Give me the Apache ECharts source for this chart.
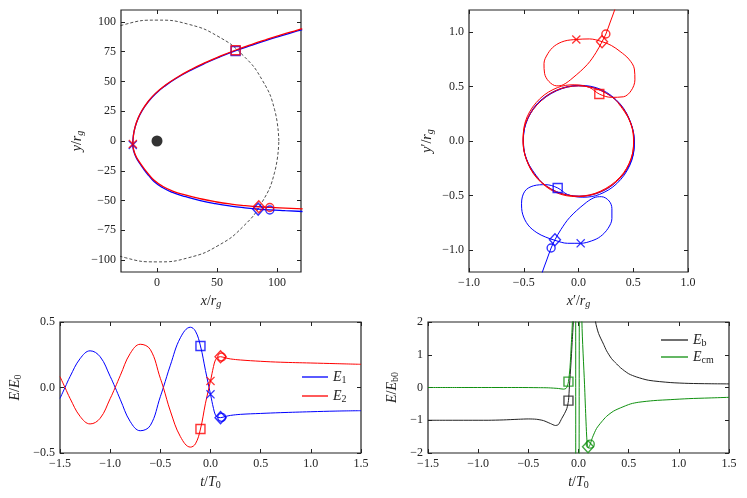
<!DOCTYPE html>
<html>
<head>
<meta charset="utf-8">
<script src="https://cdn.jsdelivr.net/npm/echarts@6/dist/echarts.min.js"></script>
<style>
html, body { margin: 0; padding: 0; background: #fff; }
#main { width: 747px; height: 498px; }
</style>
</head>
<body>
<div id="main"></div>
<script>
// ---- data ----
// top-left: orbits in the x/y plane (units of r_g), from the upper right round the pericentre
const orbitRed = [[121,94.4],[117,93.2],[104.1,89.3],[91.2,85.2],[78.6,81],[65.2,76.2],[52.2,71],[40.7,66],[28.4,60],[17.6,54],[7.1,47],[-1.3,40],[-7.5,33],[-12.3,26],[-15.8,19],[-18.2,12],[-19.6,5],[-20.1,-2.5],[-19.3,-8],[-17.4,-13],[-14.4,-18],[-10.9,-23],[-6.9,-28],[-2.4,-33],[4.6,-38],[13,-42],[24.2,-45.5],[36.2,-48.5],[48.7,-51],[61.7,-53],[73.4,-54.3],[84.2,-55.2],[93.8,-55.8],[107,-56.4],[121.4,-57]];
const orbitBlue = [[121,93.6],[116.9,92.4],[104,88.5],[91.1,84.5],[78.5,80.3],[65.1,75.6],[52.1,70.5],[40.6,65.5],[28.3,59.5],[17.5,53.5],[7,46.5],[-1.4,39.5],[-7.6,32.5],[-12.4,25.5],[-15.9,18.5],[-18.3,11.5],[-19.7,4.5],[-20.2,-3.2],[-19.4,-8.5],[-17.5,-13.6],[-14.5,-18.7],[-11,-23.8],[-7,-28.9],[-2.5,-34],[4.5,-39.1],[12.9,-43.2],[24.1,-46.8],[36.1,-50],[48.6,-52.6],[61.6,-54.7],[73.3,-56.1],[84.1,-57.1],[93.7,-57.8],[106.9,-58.5],[121.3,-59.2]];
const dashedCircle = [[101.5,0],[98,26.3],[87.9,50.8],[71.8,71.8],[50.8,87.9],[26.3,98],[0,101.5],[-26.3,98],[-50.8,87.9],[-71.8,71.8],[-87.9,50.8],[-98,26.3],[-101.5,0],[-98,-26.3],[-87.9,-50.8],[-71.8,-71.8],[-50.8,-87.9],[-26.3,-98],[0,-101.5],[26.3,-98],[50.8,-87.9],[71.8,-71.8],[87.9,-50.8],[98,-26.3],[101.5,0]];
const holePos = [[0, 0]];
// marker order: square, cross, diamond, circle
const tlRedMarks = [[65.5,76.2],[-20.1,-2.5],[84.8,-55.2],[94,-55.8]];
const tlBlueMarks = [[65.5,75.6],[-20.2,-3.3],[84.3,-57.2],[94,-57.9]];

// top-right: trajectories in the rotating frame
const loopRed = [[0.36,0.35],[0.46,0.2],[0.505,0.02],[0.48,-0.16],[0.38,-0.33],[0.2,-0.46],[0,-0.505],[-0.2,-0.465],[-0.37,-0.345],[-0.475,-0.17],[-0.507,0],[-0.48,0.17],[-0.38,0.33],[-0.21,0.46],[0,0.505],[0.2,0.465],[0.37,0.345],[0.475,0.17],[0.503,-0.01],[0.475,-0.18],[0.37,-0.35],[0.19,-0.47],[-0.01,-0.51],[-0.21,-0.47],[-0.38,-0.34],[-0.48,-0.16],[-0.505,0.03],[-0.47,0.22],[-0.35,0.39],[-0.19,0.49],[-0.04,0.515],[0.1,0.49],[0.19,0.43],[0.3,0.4],[0.41,0.405],[0.48,0.46],[0.515,0.56],[0.51,0.66],[0.46,0.75],[0.38,0.82],[0.3,0.875],[0.215,0.91],[0.1,0.935],[-0.02,0.93],[-0.13,0.915],[-0.22,0.87],[-0.28,0.8],[-0.315,0.71],[-0.31,0.62],[-0.27,0.545],[-0.2,0.505],[-0.14,0.515],[-0.05,0.58],[0.08,0.7],[0.16,0.81],[0.215,0.91],[0.25,0.98],[0.29,1.09],[0.33,1.2],[0.36,1.3]];
const loopBlue = [[-0.36,-0.35],[-0.46,-0.2],[-0.505,-0.02],[-0.48,0.16],[-0.38,0.33],[-0.2,0.46],[0,0.505],[0.2,0.465],[0.37,0.345],[0.475,0.17],[0.51,0],[0.485,-0.17],[0.39,-0.33],[0.22,-0.46],[0.01,-0.505],[-0.2,-0.465],[-0.37,-0.345],[-0.475,-0.17],[-0.503,0.01],[-0.475,0.18],[-0.37,0.35],[-0.19,0.47],[0.01,0.51],[0.21,0.47],[0.38,0.34],[0.48,0.16],[0.51,-0.03],[0.47,-0.22],[0.35,-0.39],[0.19,-0.49],[0.04,-0.515],[-0.1,-0.49],[-0.19,-0.43],[-0.3,-0.4],[-0.41,-0.41],[-0.49,-0.46],[-0.52,-0.57],[-0.51,-0.67],[-0.46,-0.77],[-0.38,-0.84],[-0.3,-0.88],[-0.215,-0.91],[-0.1,-0.937],[0.02,-0.937],[0.12,-0.915],[0.2,-0.875],[0.27,-0.8],[0.305,-0.71],[0.305,-0.62],[0.28,-0.55],[0.21,-0.51],[0.14,-0.52],[0.05,-0.58],[-0.08,-0.7],[-0.16,-0.81],[-0.215,-0.905],[-0.25,-0.98],[-0.29,-1.09],[-0.33,-1.2],[-0.36,-1.3]];
const trRedMarks = [[0.19,0.43],[-0.02,0.93],[0.215,0.91],[0.25,0.98]];
const trBlueMarks = [[-0.19,-0.43],[0.02,-0.937],[-0.215,-0.905],[-0.25,-0.98]];

// bottom-left: fields E1, E2 vs t/T0
const tGrid = [-1.5,-1.45,-1.4,-1.3,-1.2,-1.1,-1.0,-0.95,-0.9,-0.8,-0.7,-0.6,-0.5,-0.47,-0.4,-0.3,-0.2,-0.15,-0.1,-0.05,0,0.03,0.05,0.07,0.1,0.15,0.2,0.3,0.5,0.7,1.0,1.25,1.5];
const e1 = [-0.083,0,0.083,0.22,0.28,0.235,0.085,0,-0.09,-0.26,-0.33,-0.29,-0.07,0,0.17,0.38,0.46,0.43,0.317,0.13,-0.052,-0.16,-0.212,-0.226,-0.23,-0.221,-0.213,-0.205,-0.198,-0.192,-0.185,-0.18,-0.177];
const e2 = [0.083,0,-0.083,-0.22,-0.278,-0.235,-0.085,0,0.09,0.26,0.33,0.29,0.07,0,-0.18,-0.375,-0.455,-0.43,-0.317,-0.12,0.05,0.16,0.212,0.228,0.235,0.226,0.218,0.21,0.2,0.193,0.187,0.182,0.177];
const blBlueMarks = [[-0.1,0.317],[0,-0.052],[0.1,-0.23],[0.112,-0.228]];
const blRedMarks = [[-0.1,-0.317],[0,0.05],[0.1,0.235],[0.112,0.233]];

// bottom-right: energies (values past +-2 leave the frame)
const ebCurve = [[-1.5,-1.0],[-1.3,-1.0],[-1.1,-1.0],[-0.9,-1.0],[-0.75,-0.99],[-0.6,-0.97],[-0.5,-0.96],[-0.42,-0.97],[-0.35,-1.01],[-0.28,-1.1],[-0.23,-1.16],[-0.2,-1.13],[-0.166,-0.94],[-0.14,-0.8],[-0.116,-0.64],[-0.1,-0.4],[-0.09,0.05],[-0.075,0.75],[-0.06,1.55],[-0.05,2.1],[-0.04,3],[-0.03,6],[0.14,6],[0.16,2.4],[0.17,2.0],[0.2,1.65],[0.25,1.32],[0.28,1.12],[0.33,0.88],[0.38,0.72],[0.42,0.6],[0.5,0.42],[0.58,0.32],[0.7,0.22],[0.92,0.15],[1.1,0.125],[1.3,0.115],[1.5,0.11]];
const ecmCurve = [[-1.5,0],[-1.2,0],[-0.9,0],[-0.6,0],[-0.4,-0.005],[-0.3,-0.01],[-0.2,-0.03],[-0.15,-0.05],[-0.125,-0.03],[-0.11,0.05],[-0.1,0.18],[-0.085,0.6],[-0.072,1.3],[-0.06,2.05],[-0.05,3],[-0.04,6],[-0.03,6],[-0.024,-6],[0.005,-6],[0.008,-6],[0.012,6],[0.025,6],[0.034,2.0],[0.06,0.1],[0.075,-1.05],[0.085,-1.65],[0.097,-1.84],[0.107,-1.8],[0.117,-1.73],[0.14,-1.52],[0.18,-1.25],[0.23,-1.05],[0.28,-0.88],[0.35,-0.72],[0.42,-0.62],[0.52,-0.5],[0.6,-0.45],[0.75,-0.4],[0.92,-0.37],[1.1,-0.34],[1.3,-0.32],[1.5,-0.3]];
const ebMarks = [[-0.1,-0.4]];
const ecmMarks = [[-0.1,0.18],null,[0.095,-1.81],[0.117,-1.73]];

// tick positions
const tlXTicks = [0, 50, 100];
const tlYTicks = [-100, -75, -50, -25, 0, 25, 50, 75, 100];
const trXTicks = [-1, -0.5, 0, 0.5, 1];
const trYTicks = [-1, -0.5, 0, 0.5, 1];
const tTicks = [-1.5, -1, -0.5, 0, 0.5, 1, 1.5];
const blYTicks = [-0.5, 0, 0.5];
const brYTicks = [-2, -1, 0, 1, 2];

// ---- styling ----
const FONT = 'Liberation Serif';
const INK = '#222';
const RED = '#ff0000', BLUE = '#0000ff', GREEN = '#109010', BLACK = '#222';

const RICH = {
    i: { fontFamily: FONT, fontStyle: 'italic', fontSize: 14, color: INK, lineHeight: 16 },
    n: { fontFamily: FONT, fontSize: 14, color: INK, lineHeight: 16 },
    s: { fontFamily: FONT, fontSize: 10, color: INK, lineHeight: 5, verticalAlign: 'bottom' },
    si: { fontFamily: FONT, fontStyle: 'italic', fontSize: 10, color: INK, lineHeight: 5, verticalAlign: 'bottom' }
};
const LEG = {
    E1: '{i|E}{s|1}', E2: '{i|E}{s|2}',
    Eb: '{i|E}{s|b}', Ecm: '{i|E}{s|cm}'
};

function fmt(dec) {
    return v => (v < -1e-9 ? '\u2212' : '') + Math.abs(v).toFixed(dec);
}

function axisPair(g, dim, range, ticks, dec, name, nameGap) {
    const tick = { inside: true, length: 4, customValues: ticks, lineStyle: { color: INK, width: 1 } };
    const main = {
        type: 'value', gridIndex: g, min: range[0], max: range[1],
        position: dim === 'x' ? 'bottom' : 'left',
        axisLine: { show: false, onZero: false }, splitLine: { show: false },
        axisTick: tick,
        axisLabel: { customValues: ticks, formatter: fmt(dec), fontFamily: FONT, fontSize: 12, color: INK, margin: 5 },
        name: name, nameLocation: 'middle', nameGap: nameGap,
        nameTextStyle: { rich: RICH }
    };
    const mirror = {
        type: 'value', gridIndex: g, min: range[0], max: range[1],
        position: dim === 'x' ? 'top' : 'right',
        axisLine: { show: false, onZero: false }, splitLine: { show: false },
        axisTick: tick,
        axisLabel: { show: false }
    };
    return [main, mirror];
}

const grids = [
    { left: 121, top: 10, width: 180, height: 262 },
    { left: 469, top: 10, width: 219, height: 262 },
    { left: 60, top: 322, width: 301, height: 131 },
    { left: 428, top: 322, width: 301, height: 131 }
].map(g => Object.assign(g, { show: true, borderColor: INK, borderWidth: 1.2, backgroundColor: 'transparent' }));

const xAxes = [].concat(
    axisPair(0, 'x', [-30, 120], tlXTicks, 0, '{i|x}{n|/}{i|r}{si|g}', 17),
    axisPair(1, 'x', [-1, 1], trXTicks, 1, '{i|x}{n|\u2032/}{i|r}{si|g}', 17),
    axisPair(2, 'x', [-1.5, 1.5], tTicks, 1, '{i|t}{n|/}{i|T}{s|0}', 21),
    axisPair(3, 'x', [-1.5, 1.5], tTicks, 1, '{i|t}{n|/}{i|T}{s|0}', 21)
);
const yAxes = [].concat(
    axisPair(0, 'y', [-110, 110], tlYTicks, 0, '{i|y}{n|/}{i|r}{si|g}', 36),
    axisPair(1, 'y', [-1.2, 1.2], trYTicks, 1, '{i|y}{n|\u2032/}{i|r}{si|g}', 34),
    axisPair(2, 'y', [-0.5, 0.5], blYTicks, 1, '{i|E}{n|/}{i|E}{s|0}', 37),
    axisPair(3, 'y', [-2, 2], brYTicks, 0, '{i|E}{n|/}{i|E}{s|b0}', 28)
);

function curve(g, name, data, color, width, smooth, extra) {
    return Object.assign({
        type: 'line', name: name, xAxisIndex: 2 * g, yAxisIndex: 2 * g,
        data: data, symbol: 'none', smooth: smooth, clip: true,
        lineStyle: { color: color, width: width }, itemStyle: { color: color },
        emphasis: { disabled: true }, animation: false
    }, extra || {});
}

const CROSS = 'path://M1,0L5,4L9,0L10,1L6,5L10,9L9,10L5,6L1,10L0,9L4,5L0,1Z';
const SHAPES = ['rect', CROSS, 'diamond', 'circle'];
const SIZES = [9, 9, 11, 8];

function marks(g, pts, color) {
    const out = [];
    pts.forEach((p, k) => {
        if (!p) return;
        const isCross = k === 1;
        out.push({
            type: 'scatter', xAxisIndex: 2 * g, yAxisIndex: 2 * g, data: [p],
            symbol: SHAPES[k], symbolSize: k === 2 ? [SIZES[k], SIZES[k] + 1] : SIZES[k], z: 5,
            itemStyle: isCross ? { color: color } : { color: 'transparent', borderColor: color, borderWidth: 1.4 },
            emphasis: { disabled: true }, animation: false
        });
    });
    return out;
}

const series = [
    curve(0, 'circ', dashedCircle, BLACK, 0.8, 0.5, { lineStyle: { color: BLACK, width: 0.8, type: [3, 2] } }),
    curve(0, 'ob', orbitBlue, BLUE, 1.3, 0.5),
    curve(0, 'or', orbitRed, RED, 1.3, 0.5),
    { type: 'scatter', xAxisIndex: 0, yAxisIndex: 0, data: holePos, symbol: 'circle', symbolSize: 11,
      itemStyle: { color: '#000' }, animation: false },
    ...marks(0, tlBlueMarks, BLUE),
    ...marks(0, tlRedMarks, RED),

    curve(1, 'lb', loopBlue, BLUE, 1, 0.35),
    curve(1, 'lr', loopRed, RED, 1, 0.35),
    ...marks(1, trBlueMarks, BLUE),
    ...marks(1, trRedMarks, RED),

    curve(2, 'E1', tGrid.map((t, k) => [t, e1[k]]), BLUE, 1, 0.4),
    curve(2, 'E2', tGrid.map((t, k) => [t, e2[k]]), RED, 1, 0.4),
    ...marks(2, blBlueMarks, BLUE),
    ...marks(2, blRedMarks, RED),

    curve(3, 'Eb', ebCurve, BLACK, 1, 0.25),
    curve(3, 'Ecm', ecmCurve, GREEN, 1, 0.25),
    ...marks(3, ebMarks, BLACK),
    ...marks(3, ecmMarks, GREEN)
];

const legendText = { rich: { i: RICH.i, s: RICH.s } };
const chart = echarts.init(document.getElementById('main'), null, { renderer: 'canvas' });
chart.setOption({
    backgroundColor: '#fff',
    animation: false,
    grid: grids,
    xAxis: xAxes,
    yAxis: yAxes,
    legend: [
        { data: ['E1', 'E2'], left: 297, top: 365, orient: 'vertical', icon: 'rect', itemWidth: 26, itemHeight: 1.3,
          itemGap: 4, formatter: n => LEG[n], textStyle: legendText, selectedMode: false },
        { data: ['Eb', 'Ecm'], left: 656, top: 328, orient: 'vertical', icon: 'rect', itemWidth: 27, itemHeight: 1.3,
          itemGap: 2, formatter: n => LEG[n], textStyle: legendText, selectedMode: false }
    ],
    series: series
});
window.onresize = function () {
    chart.resize();
};
</script>
</body>
</html>
